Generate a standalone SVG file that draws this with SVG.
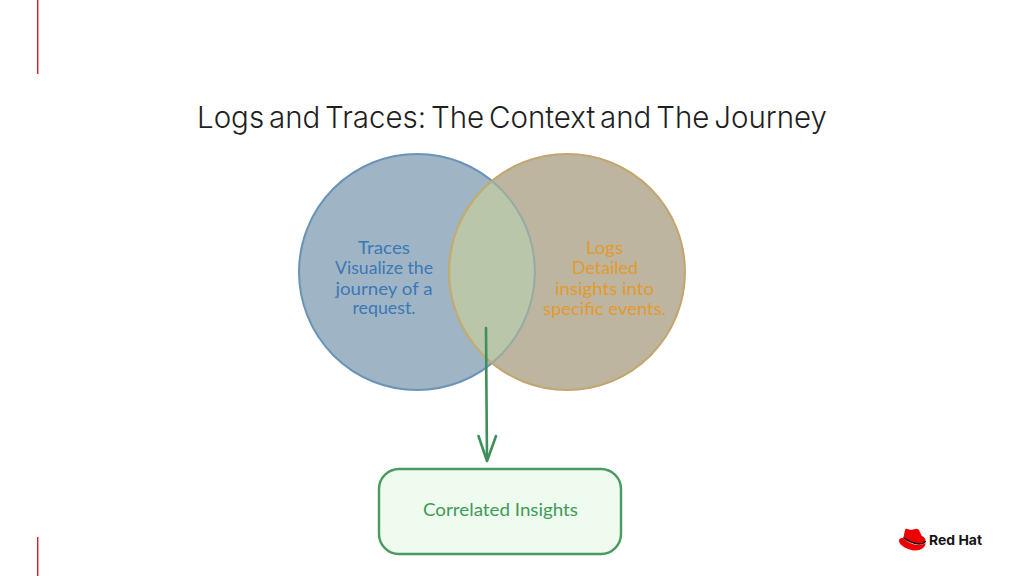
<svg xmlns="http://www.w3.org/2000/svg" width="1024" height="576" viewBox="0 0 1024 576">
<style>
.hand{font-family:"Lato","Noto Sans",sans-serif;font-size:17px;text-anchor:middle;font-weight:400}
.blue{fill:#3a78b5}
.orange{fill:#e39a2c}
.green{fill:#3f9a5a}
.rule{stroke:#d01f2c;stroke-width:1.4;fill:none}
</style>
<defs>
<clipPath id="lens"><circle cx="417" cy="272" r="118"/></clipPath>
</defs>
<rect width="1024" height="576" fill="#ffffff"/>
<path class="rule" d="M37.700 0V74M37.700 537V576"/>
<text id="title" x="197" y="128" font-family="Inter,'Liberation Sans',sans-serif" font-weight="300" font-size="30" word-spacing="-3.5" fill="#1f1f1f" textLength="630" lengthAdjust="spacingAndGlyphs">Logs and Traces: The Context and The Journey</text>
<g id="traces">
<circle cx="417" cy="272" r="118" fill="#9fb5c6" stroke="#6a93b5" stroke-width="2"/>
<text class="hand blue" x="384" y="254" textLength="52" lengthAdjust="spacingAndGlyphs">Traces</text>
<text class="hand blue" x="384" y="274" textLength="98" lengthAdjust="spacingAndGlyphs">Visualize the</text>
<text class="hand blue" x="384" y="295" textLength="97" lengthAdjust="spacingAndGlyphs">journey of a</text>
<text class="hand blue" x="384" y="314" textLength="63" lengthAdjust="spacingAndGlyphs">request.</text>
</g>
<g id="logs">
<circle cx="567" cy="272" r="118" fill="#bdb5a0" stroke="#c2a66e" stroke-width="2"/>
<circle cx="567" cy="272" r="118" fill="#b9c6aa" stroke="none" clip-path="url(#lens)"/>
<path d="M492 181A118 118 0 0 1 492 363" fill="none" stroke="#95aba3" stroke-width="2"/>
<path d="M492 181A118 118 0 0 0 492 363" fill="none" stroke="#c2ac6e" stroke-width="2"/>
<text class="hand orange" x="604.500" y="254" textLength="37" lengthAdjust="spacingAndGlyphs">Logs</text>
<text class="hand orange" x="605" y="274" textLength="66" lengthAdjust="spacingAndGlyphs">Detailed</text>
<text class="hand orange" x="604.500" y="295" textLength="99" lengthAdjust="spacingAndGlyphs">insights into</text>
<text class="hand orange" x="604.500" y="315" textLength="123" lengthAdjust="spacingAndGlyphs">specific events.</text>
</g>
<g id="connectors" fill="none" stroke="#3f8f58" stroke-width="2.6" stroke-linecap="round" stroke-linejoin="round">
<path d="M486 328C486 370 487 420 487 460"/>
<path d="M478.500 436L487 461L496 436"/>
</g>
<g id="correlated">
<rect x="379" y="469" width="242" height="85" rx="20" fill="#eefbee" stroke="#4a9a62" stroke-width="2.400"/>
<text class="hand green" x="500.500" y="516" textLength="155" lengthAdjust="spacingAndGlyphs">Correlated Insights</text>
</g>
<g id="logo">
<path d="M903.500 537L905 530C905.500 528.500 907 528.500 908.500 529.300C910 530 912 530 914 529.300C916.500 528.300 918.500 528.500 919.500 531L921.500 535.500C924 537 925.500 538.500 925.500 540.500C925.500 543 922.500 544 919 544C913 544 906 540.500 903.500 537Z" fill="#ee0000"/>
<path d="M899 541C899 538.500 901 537.800 903.300 538.200C906 541 913 545 919 545C922 545 924.500 544 925.500 542.500C926 547 921 550.500 915 550.500C908 550.500 899 545 899 541Z" fill="#ee0000"/>
<path d="M903.300 537.500C907 540.500 914 543.500 919 544C922 544 924.500 543 925.500 541" fill="none" stroke="#111111" stroke-width="1.600"/>
<text x="929" y="545" font-family="Inter,'Liberation Sans',sans-serif" font-weight="700" font-size="13.500" fill="#151515" textLength="53" lengthAdjust="spacingAndGlyphs">Red Hat</text>
</g>
</svg>
